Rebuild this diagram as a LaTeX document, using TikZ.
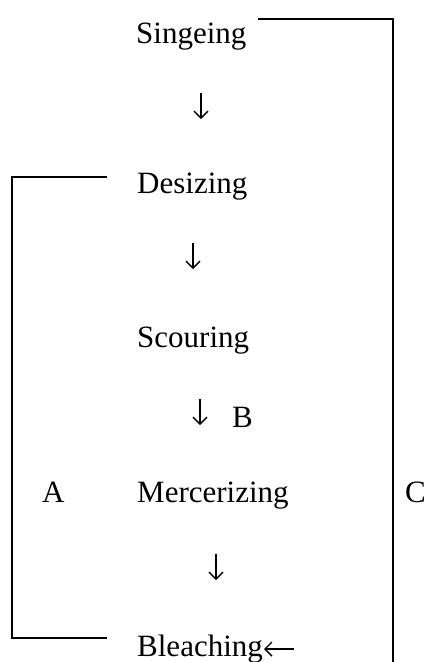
\documentclass[tikz,border=0pt]{standalone}
\usepackage{fontspec}
\setmainfont{Liberation Serif}
\usetikzlibrary{arrows.meta}
\begin{document}
\begin{tikzpicture}[x=1pt,y=-1pt,
  step label/.style={anchor=base west, inner sep=0pt, font=\fontsize{31}{31}\selectfont},
  flowarrow/.style={line width=1.2pt, -{Straight Barb[length=7pt,width=14pt,line width=1.4pt]}},
  bracket/.style={line width=1.3pt}]
\useasboundingbox (0,0) rectangle (428,662);
\node[step label] (sing) at (136,43) {Singeing};
\node[step label] (desi) at (137,193) {Desizing};
\node[step label] (scou) at (137,347) {Scouring};
\node[step label] (merc) at (137,502) {Mercerizing};
\node[step label] (blea) at (137,656) {Bleaching};
\node[step label] (A) at (42,502) {A};
\node[step label] (B) at (232,427) {B};
\node[step label] (C) at (405,502) {C};
\coordinate (a1s) at (201,93);  \coordinate (a1e) at (201,119);
\coordinate (a2s) at (193,243); \coordinate (a2e) at (193,269);
\coordinate (a3s) at (200,399); \coordinate (a3e) at (200,425);
\coordinate (a4s) at (216,554); \coordinate (a4e) at (216,580);
\coordinate (a5s) at (294,649); \coordinate (a5e) at (264,649);
\draw[flowarrow] (a1s) -- (a1e);
\draw[flowarrow] (a2s) -- (a2e);
\draw[flowarrow] (a3s) -- (a3e);
\draw[flowarrow] (a4s) -- (a4e);
\draw[flowarrow] (a5s) -- (a5e);
\coordinate (ctop) at (258,19);
\coordinate (cbot) at (393,662);
\coordinate (atop) at (107,177);
\coordinate (abot) at (107,638);
\draw[bracket] (ctop) -- (cbot |- ctop) -- (cbot);
\draw[bracket] (atop) -- (12,177) -- (12,638) -- (abot);
\end{tikzpicture}
\end{document}
